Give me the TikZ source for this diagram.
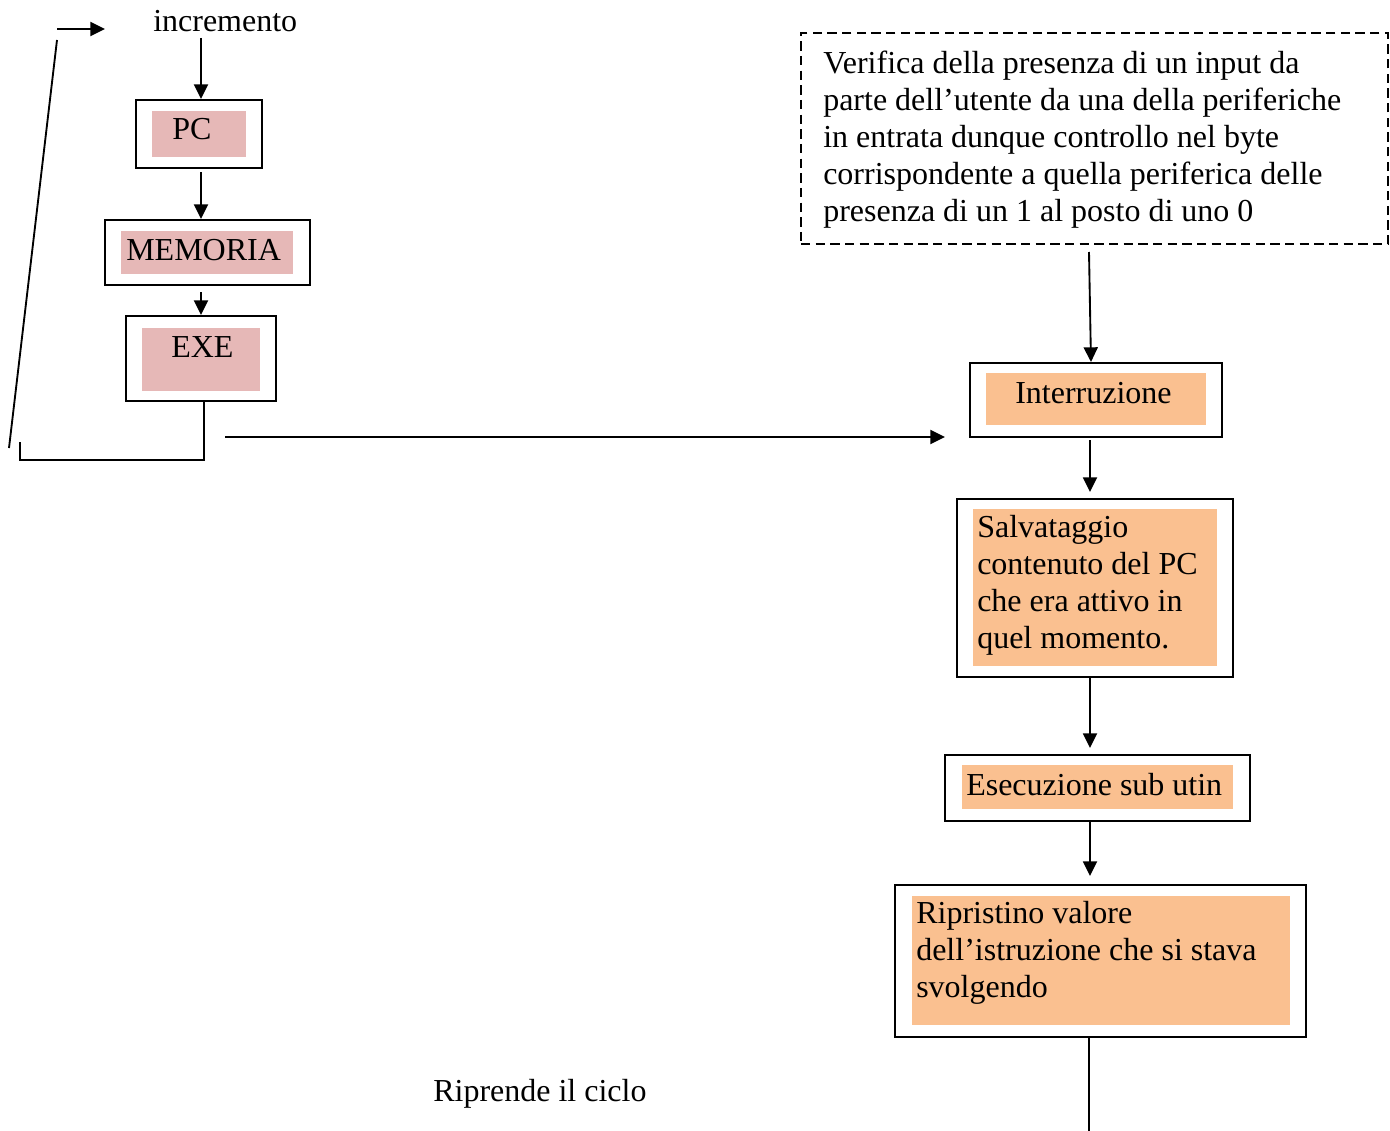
\documentclass[tikz,border=0pt]{standalone}
\usepackage{fontspec}
\setmainfont{Liberation Serif}
\usetikzlibrary{fit,arrows.meta}
\definecolor{pinkfill}{HTML}{E6B8B7}
\definecolor{orangefill}{HTML}{FAC090}
\begin{document}
\begin{tikzpicture}[x=0.75pt,y=-0.75pt,
  outerbox/.style={draw=black,line width=1.5pt,inner sep=0pt,fill=none},
  pinkbox/.style={fill=pinkfill,draw=none,inner sep=0pt},
  orangebox/.style={fill=orangefill,draw=none,inner sep=0pt},
  dashbox/.style={draw=black,line width=1.5pt,dash pattern=on 7pt off 4pt,inner sep=0pt},
  txt/.style={inner sep=0pt,anchor=base west,align=left,font=\fontsize{24}{27.75}\selectfont},
  conn/.style={line width=1.4pt},
  arr/.style={line width=1.4pt,-{Triangle[length=11pt,width=10.5pt]}}]
\useasboundingbox (0,0) rectangle (1390,1131);
% left column
\node[txt] (incr) at (153,32) {incremento};
\node[outerbox,fit={(136,100) (262,168)}] (pc) {};
\node[pinkbox,fit={(152,111) (246,157)}] (pcf) {};
\node[txt] (pct) at (172,140) {PC};
\node[outerbox,fit={(105,220) (310,285)}] (mem) {};
\node[pinkbox,fit={(121,231) (293,274)}] (memf) {};
\node[txt] (memt) at (126,260) {MEMORIA};
\node[outerbox,fit={(126,316) (276,401)}] (exe) {};
\node[pinkbox,fit={(142,328) (260,391)}] (exef) {};
\node[txt] (exet) at (171,357) {EXE};
\coordinate (a0) at (201,38);
\draw[arr] (a0) -- (a0 |- pc.north);
\coordinate (a1) at (201,172);
\draw[arr] (a1) -- (a1 |- mem.north);
\coordinate (a2) at (201,292);
\draw[arr] (a2) -- (a2 |- exe.north);
% loop back
\coordinate (b0) at (204,401);
\coordinate (b1) at (204,460);
\coordinate (b2) at (20,460);
\coordinate (b3) at (20,442);
\draw[conn] (b0) -- (b1) -- (b2) -- (b3);
\coordinate (d0) at (9,448);
\coordinate (d1) at (57,40);
\draw[conn] (d0) -- (d1);
\coordinate (e0) at (57,29);
\coordinate (e1) at (105,29);
\draw[arr] (e0) -- (e1);
% long arrow
\coordinate (f0) at (225,437);
\coordinate (f1) at (945,437);
\draw[arr] (f0) -- (f1);
% dashed box
\node[dashbox,fit={(801,33) (1388,244)}] (ver) {};
\node[txt] (vert) at (823,221) {Verifica della presenza di un input da\\parte dell’utente da una della periferiche\\in entrata dunque controllo nel byte\\corrispondente a quella periferica delle\\presenza di un 1 al posto di uno 0};
% right column
\node[outerbox,fit={(970,363) (1222,437)}] (intr) {};
\node[orangebox,fit={(986,373) (1206,425)}] (intrf) {};
\node[txt] (intrt) at (1015,403) {Interruzione};
\node[outerbox,fit={(957,499) (1233,677)}] (salv) {};
\node[orangebox,fit={(973,509) (1217,666)}] (salvf) {};
\node[txt] (salvt) at (977,648) {Salvataggio\\contenuto del PC\\che era attivo in\\quel momento.};
\node[outerbox,fit={(945,755) (1250,821)}] (esec) {};
\node[orangebox,fit={(962,765) (1233,809)}] (esecf) {};
\node[txt] (esect) at (966,795) {Esecuzione sub utin};
\node[outerbox,fit={(895,885) (1306,1037)}] (rip) {};
\node[orangebox,fit={(912,896) (1290,1025)}] (ripf) {};
\node[txt] (ript) at (916,997) {Ripristino valore\\dell’istruzione che si stava\\svolgendo};
\node[txt] (ripr) at (433,1101) {Riprende il ciclo};
\coordinate (g0) at (1089,252);
\draw[arr] (g0) -- (1091,362);
\coordinate (h0) at (1090,440);
\coordinate (h1) at (1090,492);
\draw[arr] (h0) -- (h1);
\coordinate (i0) at (1090,677);
\coordinate (i1) at (1090,748);
\draw[arr] (i0) -- (i1);
\coordinate (j0) at (1090,821);
\coordinate (j1) at (1090,876);
\draw[arr] (j0) -- (j1);
\coordinate (k0) at (1089,1037);
\coordinate (k1) at (1089,1131);
\draw[conn] (k0) -- (k1);
\end{tikzpicture}
\end{document}
